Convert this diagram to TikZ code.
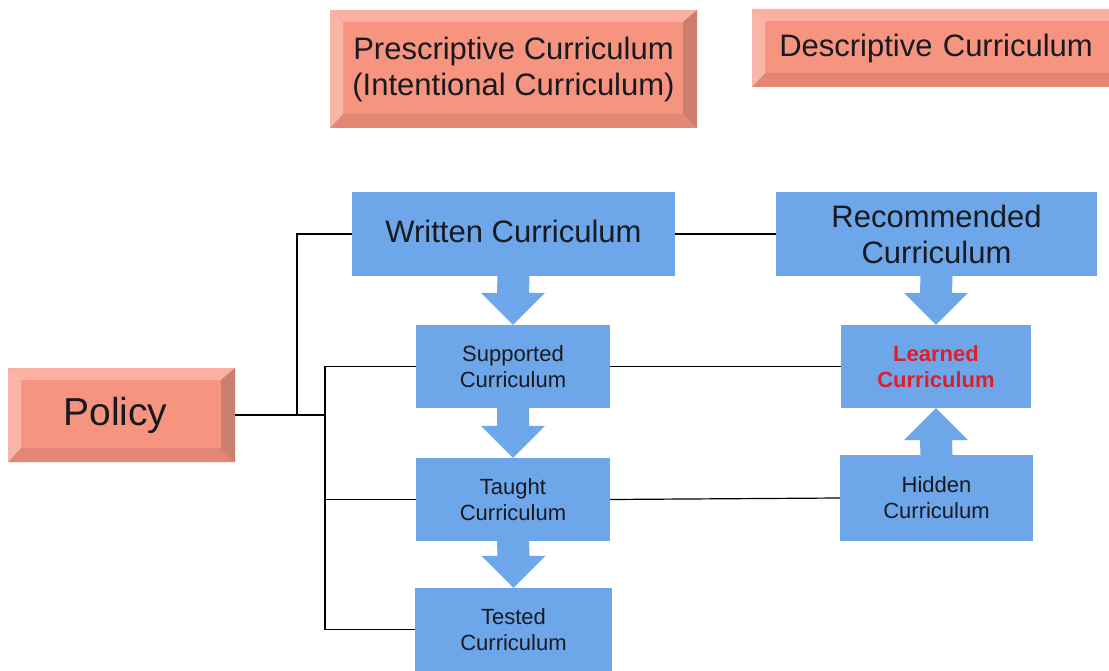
\documentclass[tikz,border=0pt]{standalone}
\usepackage{fontspec}
\setmainfont{Liberation Sans}
\usetikzlibrary{calc}

\definecolor{salmon}{RGB}{246,148,128}
\definecolor{bevtop}{RGB}{250,176,162}
\definecolor{bevleft}{RGB}{249,182,168}
\definecolor{bevright}{RGB}{204,126,111}
\definecolor{bevbottom}{RGB}{228,134,116}
\definecolor{boxblue}{RGB}{110,166,234}
\definecolor{learnedred}{RGB}{222,30,42}
\definecolor{inkgrey}{RGB}{24,26,32}

% block arrow: #1 from, #2 to, #3 = -1 points down, 1 points up
\newcommand{\fatarrow}[3]{%
  \fill[boxblue] ($(#1)+(-16,0)$) -- ($(#1)+(16,0)$) -- ($(#2)+(16,#3*32)$)
    -- ($(#2)+(32,#3*32)$) -- (#2) -- ($(#2)+(-32,#3*32)$)
    -- ($(#2)+(-16,#3*32)$) -- cycle;}

\begin{document}
\begin{tikzpicture}[x=1pt, y=-1pt,
    bevelbox/.style={fill=salmon, inner sep=0pt, align=center, text=inkgrey,
      path picture={
        \coordinate (nw) at (path picture bounding box.north west);
        \coordinate (ne) at (path picture bounding box.north east);
        \coordinate (sw) at (path picture bounding box.south west);
        \coordinate (se) at (path picture bounding box.south east);
        \fill[bevtop] (nw) -- (ne) -- ([shift={(-13pt,-12pt)}]ne) -- ([shift={(13pt,-12pt)}]nw) -- cycle;
        \fill[bevbottom] (sw) -- (se) -- ([shift={(-14pt,14pt)}]se) -- ([shift={(13pt,14pt)}]sw) -- cycle;
        \fill[bevleft] (nw) -- ([shift={(13pt,-12pt)}]nw) -- ([shift={(13pt,14pt)}]sw) -- (sw) -- cycle;
        \fill[bevright] (ne) -- ([shift={(-14pt,-12pt)}]ne) -- ([shift={(-14pt,14pt)}]se) -- (se) -- cycle;
      }},
    bluebox/.style={fill=boxblue, inner sep=0pt, align=center, text=inkgrey},
    bigtext/.style={font=\fontsize{31}{36}\selectfont},
    smalltext/.style={font=\fontsize{22}{26}\selectfont},
    link/.style={line width=1.2pt, black}]

    \clip (0,0) rectangle (1109,671);

    % top labels
    \node[bevelbox, bigtext, minimum width=367pt, minimum height=118pt] (presc) at (513.5,69)
        {Prescriptive Curriculum\\(Intentional Curriculum)};
    \node[bevelbox, bigtext, minimum width=372pt, minimum height=78pt, text width=357pt] (descr) at (938,48)
        {Descriptive Curriculum\hspace*{4pt}};

    % policy
    \node[bevelbox, font=\fontsize{39}{45}\selectfont, minimum width=227pt, minimum height=94pt] (policy) at (121.5,415) {Policy\hspace*{12pt}};

    % curriculum boxes
    \node[bluebox, bigtext, minimum width=323pt, minimum height=84pt] (written) at (513.5,234)
        {\raisebox{5pt}{Written Curriculum}};
    \node[bluebox, bigtext, minimum width=321pt, minimum height=84pt] (recom) at (936.5,234)
        {Recommended\\Curriculum};
    \node[bluebox, smalltext, minimum width=194pt, minimum height=83pt] (supp) at (513,366.5)
        {Supported\\Curriculum};
    \node[bluebox, smalltext, minimum width=190pt, minimum height=83pt, text=learnedred, font=\fontsize{22}{26}\selectfont\bfseries] (learned) at (936,366.5)
        {Learned\\Curriculum};
    \node[bluebox, smalltext, minimum width=194pt, minimum height=83pt] (taught) at (513,499.5)
        {Taught\\Curriculum};
    \node[bluebox, smalltext, minimum width=193pt, minimum height=86pt] (hidden) at (936.5,498)
        {Hidden\\Curriculum};
    \node[bluebox, smalltext, minimum width=197pt, minimum height=83pt] (tested) at (513.5,629.5)
        {Tested\\Curriculum};

    % block arrows
    \fatarrow{written.south}{supp.north}{-1}
    \fatarrow{recom.south}{learned.north}{-1}
    \fatarrow{supp.south}{taught.north}{-1}
    \fatarrow{taught.south}{tested.north}{-1}
    \fatarrow{hidden.north}{learned.south}{1}

    % connecting lines
    \coordinate (busA) at (297,415);
    \coordinate (busB) at (325,415);
    \draw[link] (policy.east) -- (busB);
    \draw[link] (busA) |- (written.west);
    \draw[link] (supp.west) -| (busB |- tested.west) -- (tested.west);
    \draw[link] (taught.west) -- (busB |- taught.west);
    \draw[link] (written.east) -- (recom.west);
    \draw[link] (supp.east) -- (learned.west);
    \draw[link] (taught.east) -- (hidden.west);
\end{tikzpicture}
\end{document}
